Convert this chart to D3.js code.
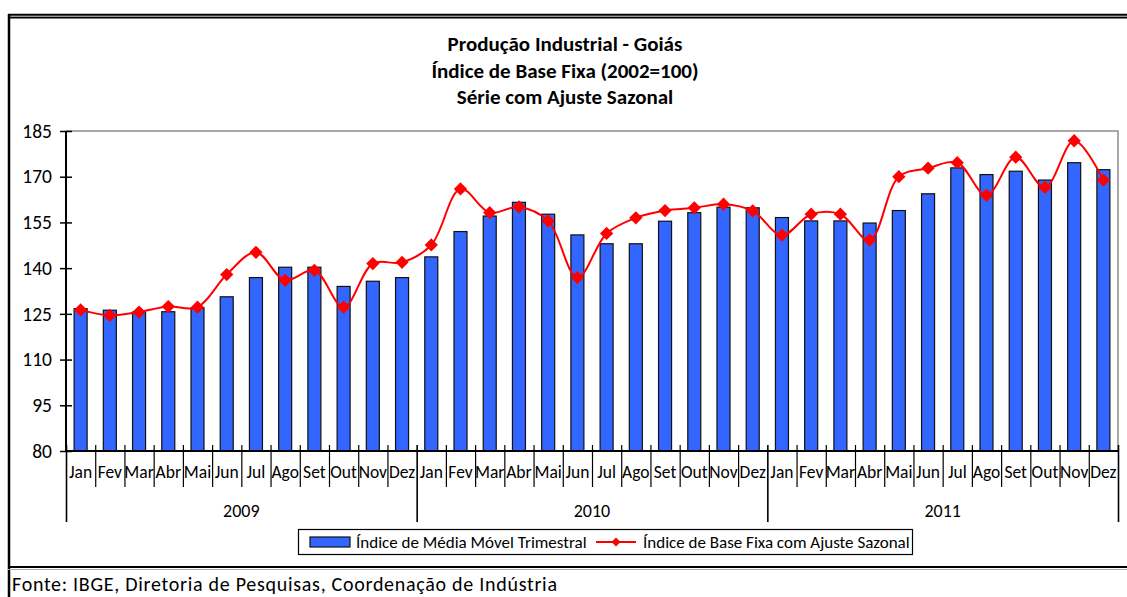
<!DOCTYPE html>
<html>
<head>
<meta charset="utf-8">
<script src="https://cdn.jsdelivr.net/npm/d3@7"></script>
<style>
  html, body { margin: 0; padding: 0; background: #fff; }
  svg { display: block; }
  text { font-family: Carlito, Calibri, Lato, "Open Sans", sans-serif; fill: #000; }
</style>
</head>
<body>
<svg id="chart" width="1127" height="597"></svg>
<script>
// ---------- data ----------
const titleLines = ["Produção Industrial - Goiás", "Índice de Base Fixa (2002=100)", "Série com Ajuste Sazonal"];
const months = ["Jan","Fev","Mar","Abr","Mai","Jun","Jul","Ago","Set","Out","Nov","Dez"];
const years = ["2009","2010","2011"];
const yTicks = [80, 95, 110, 125, 140, 155, 170, 185];
const seriesNames = ["Índice de Média Móvel Trimestral", "Índice de Base Fixa com Ajuste Sazonal"];
const mediaMovel = [
  126.7,126.2,125.6,125.7,127.0,130.6,136.9,140.3,140.3,134.0,135.7,136.9,
  143.7,152.0,157.1,161.6,157.7,150.9,148.0,148.0,155.4,158.2,160.0,159.8,
  156.6,155.5,155.5,154.8,158.9,164.4,172.9,170.7,171.8,168.9,174.6,172.3
];
const ajusteSazonal = [
  126.3,124.5,125.6,127.4,127.2,137.9,145.2,136.0,139.3,127.2,141.5,141.9,
  147.6,166.0,158.2,160.1,155.5,136.9,151.4,156.5,158.9,159.8,161.0,158.8,
  150.8,157.7,157.7,149.2,170.0,172.8,174.6,163.9,176.4,166.5,181.8,168.9
];
const fonte = "Fonte: IBGE, Diretoria de Pesquisas, Coordenação de Indústria";

// ---------- layout ----------
const svg = d3.select("#chart");
const plot = { left: 66, right: 1118, top: 131, bottom: 451 };
const n = mediaMovel.length;
const idx = d3.range(n);

const x = d3.scaleBand().domain(idx).range([plot.left, plot.right]).paddingInner(0.555).paddingOuter(0.2775);
const xc = d3.scaleBand().domain(idx).range([plot.left, plot.right]);
const xb = d3.scaleLinear().domain([0, n]).range([plot.left, plot.right]);
const y = d3.scaleLinear().domain([80, 185]).range([plot.bottom, plot.top]);

// outer frame
svg.append("line").attr("x1", 8).attr("x2", 1127).attr("y1", 14.8).attr("y2", 14.8).attr("stroke", "#000").attr("stroke-width", 2);
svg.append("line").attr("x1", 8).attr("x2", 1127).attr("y1", 16.5).attr("y2", 16.5).attr("stroke", "#999").attr("stroke-width", 1);
svg.append("line").attr("x1", 8).attr("x2", 1127).attr("y1", 17.8).attr("y2", 17.8).attr("stroke", "#000").attr("stroke-width", 1.5);
svg.append("line").attr("x1", 9).attr("x2", 9).attr("y1", 14).attr("y2", 597).attr("stroke", "#000").attr("stroke-width", 2.5);
svg.append("line").attr("x1", 8).attr("x2", 1127).attr("y1", 567).attr("y2", 567).attr("stroke", "#000").attr("stroke-width", 2);
svg.append("line").attr("x1", 8).attr("x2", 1127).attr("y1", 569.5).attr("y2", 569.5).attr("stroke", "#aaa").attr("stroke-width", 1);

// title
svg.append("g").selectAll("text").data(titleLines).join("text")
  .attr("x", 565).attr("y", (d, i) => 44 + i * 26.5)
  .attr("text-anchor", "middle").attr("dominant-baseline", "central")
  .style("font-weight", "bold").style("font-size", "21px")
  .text(d => d);

// plot area border (top & right, gray)
svg.append("path")
  .attr("d", `M${plot.left},${plot.top}H${plot.right}V${plot.bottom}`)
  .attr("fill", "none").attr("stroke", "#8c8c8c").attr("stroke-width", 1.5);

// bars
svg.append("g").selectAll("rect").data(mediaMovel).join("rect")
  .attr("x", (d, i) => x(i)).attr("width", x.bandwidth())
  .attr("y", d => y(d)).attr("height", d => y(80) - y(d))
  .attr("fill", "#3366FF").attr("stroke", "#111").attr("stroke-width", 1.2);

// line
const line = d3.line().x((d, i) => xc(i) + xc.bandwidth() / 2).y(d => y(d)).curve(d3.curveCatmullRom.alpha(0.5));
svg.append("path").datum(ajusteSazonal).attr("d", line)
  .attr("fill", "none").attr("stroke", "#FF0000").attr("stroke-width", 2);
const diamond = d3.symbol(d3.symbolSquare, 88);
svg.append("g").selectAll("path").data(ajusteSazonal).join("path")
  .attr("d", diamond)
  .attr("transform", (d, i) => `translate(${xc(i) + xc.bandwidth() / 2},${y(d)}) rotate(45)`)
  .attr("fill", "#FF0000");

// y axis
const yAxis = svg.append("g").attr("transform", `translate(${plot.left},0)`)
  .call(d3.axisLeft(y).tickValues(yTicks).tickSize(6).tickPadding(8));
yAxis.select(".domain").attr("stroke", "#000").attr("stroke-width", 2).attr("d", `M0,${plot.bottom}V${plot.top}`);
yAxis.selectAll(".tick line").attr("x1", -6).attr("x2", 6).attr("stroke", "#000").attr("stroke-width", 1.5);
yAxis.selectAll(".tick text").style("font-size", "19.5px").attr("fill", "#000");

// x axis (boundary ticks)
const xAxis = svg.append("g").attr("transform", `translate(0,${plot.bottom})`)
  .call(d3.axisBottom(xb).tickValues(d3.range(n + 1)).tickFormat("").tickSize(6));
xAxis.select(".domain").attr("stroke", "#000").attr("stroke-width", 2).attr("d", `M${plot.left},0H${plot.right}`);
xAxis.selectAll(".tick line")
  .attr("y1", -6)
  .attr("y2", d => (d % 12 === 0) ? 71 : 36)
  .attr("stroke", "#000").attr("stroke-width", d => (d % 12 === 0) ? 1.6 : 1.2);

// month labels
svg.append("g").selectAll("text").data(idx).join("text")
  .attr("x", i => xc(i) + xc.bandwidth() / 2).attr("y", 472)
  .attr("text-anchor", "middle").attr("dominant-baseline", "central")
  .style("font-size", "17.5px")
  .text(i => months[i % 12]);

// year labels
svg.append("g").selectAll("text").data(years).join("text")
  .attr("x", (d, k) => (xb(k * 12) + xb(k * 12 + 12)) / 2).attr("y", 511)
  .attr("text-anchor", "middle").attr("dominant-baseline", "central")
  .style("font-size", "18px")
  .text(d => d);

// legend
const lg = svg.append("g");
lg.append("rect").attr("x", 298.5).attr("y", 529.5).attr("width", 614).attr("height", 25)
  .attr("fill", "#fff").attr("stroke", "#000").attr("stroke-width", 1.2);
lg.append("rect").attr("x", 310).attr("y", 537).attr("width", 40).attr("height", 10)
  .attr("fill", "#3366FF").attr("stroke", "#111").attr("stroke-width", 1.2);
lg.append("text").attr("x", 356).attr("y", 542).attr("dominant-baseline", "central")
  .style("font-size", "17px").text(seriesNames[0]);
lg.append("line").attr("x1", 596).attr("x2", 636).attr("y1", 542).attr("y2", 542)
  .attr("stroke", "#FF0000").attr("stroke-width", 2);
lg.append("path").attr("d", d3.symbol(d3.symbolSquare, 40)).attr("transform", "translate(616,542) rotate(45)").attr("fill", "#FF0000");
lg.append("text").attr("x", 643).attr("y", 542).attr("dominant-baseline", "central")
  .style("font-size", "17px").text(seriesNames[1]);

// source
svg.append("text").attr("x", 12).attr("y", 584).attr("dominant-baseline", "central")
  .style("font-size", "20px").attr("textLength", 545).attr("lengthAdjust", "spacing")
  .text(fonte);
</script>
</body>
</html>
